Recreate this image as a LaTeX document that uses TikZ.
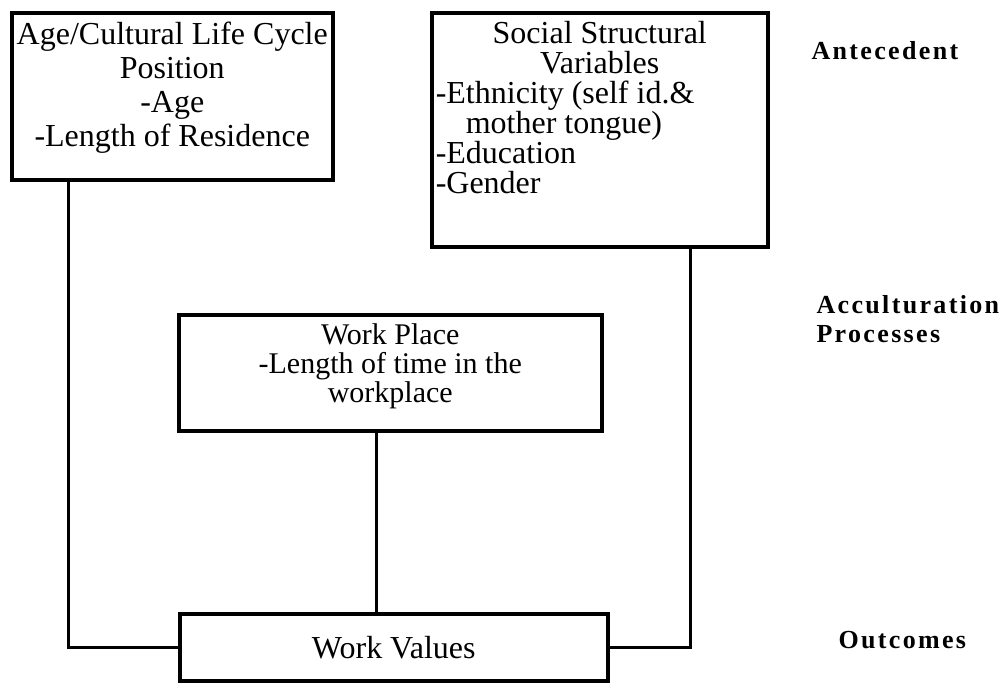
\documentclass[tikz,border=0pt]{standalone}
\usepackage{fontspec}
\setmainfont{Liberation Serif}
\newfontfamily\levelfont[LetterSpace=9]{Liberation Serif}
\begin{document}
\begin{tikzpicture}[x=1pt, y=-1pt,
  box/.style = {draw, line width=3.5pt, anchor=north west, inner xsep=4pt, inner ysep=9pt,
    font=\fontsize{32}{34}\selectfont},
  level/.style = {anchor=base west, align=left,
    font=\levelfont\bfseries\fontsize{26}{29}\selectfont},
  link/.style = {draw, line width=3pt}]
  \useasboundingbox (0,0) rectangle (1004,696);
  % boxes
  \node[box] (age) at (10,11)
    {\parbox[c][149pt][t]{313pt}{\centering Age/Cultural Life Cycle\\ Position\\ -Age\\ -Length of Residence}};
  \node[box] (social) at (430,11)
    {\parbox[c][216pt][t]{328pt}{\fontsize{32}{30}\selectfont\centering Social Structural\\ Variables\par
      \raggedright -Ethnicity (self id.\&\\ \hspace*{30pt}mother tongue)\\ -Education\\ -Gender}};
  \node[box] (place) at (177,313)
    {\parbox[c][98pt][t]{415pt}{\fontsize{30}{29}\selectfont\centering Work Place\\ -Length of time in the\\ workplace}};
  \node[box, inner ysep=13pt] (values) at (178,612)
    {\parbox[c][41pt][c]{420pt}{\centering Work Values}};
  % levels
  \node[level] (ante) at (808,59) {Antecedent};
  \node[level] (accu) at (813,342) {Acculturation\\Processes};
  \node[level] (outc) at (835,648) {Outcomes};
  % connectors
  \draw[link] ([xshift=58pt]age.south west) |- (values.west);
  \draw[link] ([xshift=-79pt]social.south east) |- (values.east);
  \draw[link] ([xshift=-14pt]place.south) -- ([xshift=-14pt]place.south |- values.north);
\end{tikzpicture}
\end{document}
